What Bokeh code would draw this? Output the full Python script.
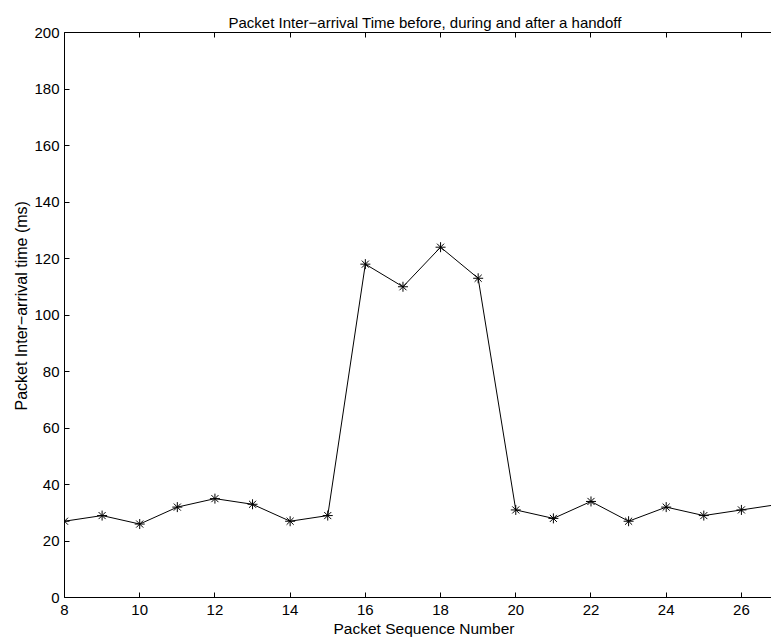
from bokeh.plotting import figure
from bokeh.models import Range1d, LinearAxis, FixedTicker, Title
from bokeh.embed import file_html
from bokeh.resources import INLINE

# Data
seq = [8, 9, 10, 11, 12, 13, 14, 15, 16, 17, 18, 19, 20, 21, 22, 23, 24, 25, 26, 27]
iat = [27, 29, 26, 32, 35, 33, 27, 29, 118, 110, 124, 113, 31, 28, 34, 27, 32, 29, 31, 33]
x_ticks = [8, 10, 12, 14, 16, 18, 20, 22, 24, 26]
y_ticks = [0, 20, 40, 60, 80, 100, 120, 140, 160, 180, 200]

title_text = "Packet Inter\u2212arrival Time before, during and after a handoff"
x_label = "Packet Sequence Number"
y_label = "Packet Inter\u2212arrival time (ms)"

FONT = "Liberation Sans"

p = figure(width=771, height=640, output_backend="svg", toolbar_location=None,
           x_range=Range1d(8, 26.8), y_range=Range1d(0, 200),
           min_border_left=64, min_border_right=0, min_border_top=32, min_border_bottom=43,
           x_axis_location=None, y_axis_location=None)
p.outline_line_color = None
p.xgrid.visible = False
p.ygrid.visible = False
p.background_fill_color = "white"
p.border_fill_color = "white"

p.line(seq, iat, line_color="black", line_width=1)
p.scatter(seq, iat, marker="asterisk", size=10, line_color="black", line_width=1)

def style_axis(ax):
    ax.axis_line_color = "black"
    ax.axis_line_width = 1
    ax.major_tick_in = 5
    ax.major_tick_out = 0
    ax.minor_tick_line_color = None
    ax.major_tick_line_color = "black"
    ax.major_label_text_font = FONT
    ax.major_label_text_font_size = "15px"
    ax.major_label_text_color = "black"

xb = LinearAxis(ticker=FixedTicker(ticks=x_ticks))
style_axis(xb)
xb.major_label_standoff = 7
p.add_layout(xb, "below")

xt = LinearAxis(ticker=FixedTicker(ticks=x_ticks))
style_axis(xt)
xt.major_label_text_font_size = "0px"
xt.major_label_text_color = None
xt.major_label_standoff = 0
p.add_layout(xt, "above")

yl = LinearAxis(ticker=FixedTicker(ticks=y_ticks))
style_axis(yl)
yl.major_label_standoff = 5
p.add_layout(yl, "left")

yl_title = Title(text=y_label, align="left", offset=187, text_font=FONT,
                 text_font_size="16px", text_font_style="normal", text_color="black",
                 standoff=3)
p.add_layout(yl_title, "left")

xl_title = Title(text=x_label, align="left", offset=269, text_font=FONT,
                 text_font_size="15.5px", text_font_style="normal", text_color="black",
                 standoff=0)
p.add_layout(xl_title, "below")

t = Title(text=title_text, align="left", offset=164, text_font=FONT,
          text_font_size="15px", text_font_style="normal", text_color="black",
          standoff=0, vertical_align="top")
p.add_layout(t, "above")

open("out.html", "w").write(file_html(p, INLINE))
